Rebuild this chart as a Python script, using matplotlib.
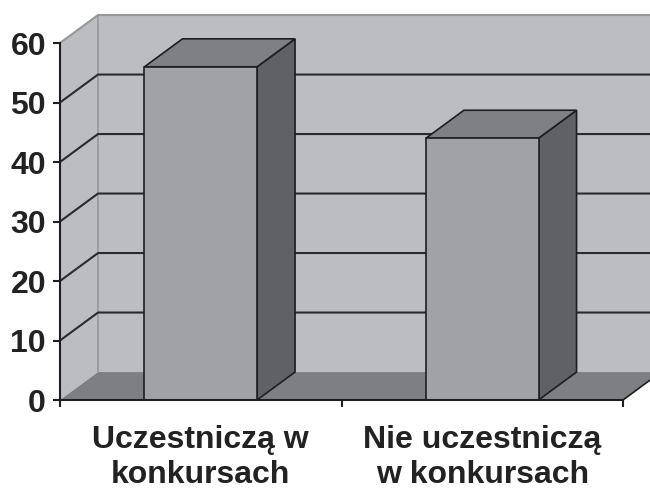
import matplotlib
matplotlib.use('Agg')
import matplotlib.pyplot as plt
from matplotlib.patches import Polygon

# dane
kategorie = ['Uczestniczą w\nkonkursach', 'Nie uczestniczą\nw konkursach']
wartosci = [56, 44]
ticki_y = [0, 10, 20, 30, 40, 50, 60]

plt.rcParams['font.family'] = ['Liberation Sans', 'DejaVu Sans']

ymax = 60
glab_x = 0.135   # przesuniecie glebokosci w jednostkach kategorii
glab_y = 4.7     # przesuniecie glebokosci w jednostkach osi y
szer = 0.4       # szerokosc slupka

kol_sciana = '#bcbdc1'
kol_podloga = '#7e7f83'
kol_front = '#a1a2a6'
kol_gora = '#7f8084'
kol_bok = '#606164'
kol_krawedz = '#1e1e1e'

fig = plt.figure(figsize=(6.5, 4.9), dpi=100)
ax = fig.add_axes([60 / 650, 90 / 490, 563 / 650, 357 / 490])
n = len(kategorie)
ax.set_xlim(0, n)
ax.set_ylim(0, ymax)


def poly(pts, fc, ec='none', lw=0, z=1):
    p = Polygon(pts, closed=True, facecolor=fc, edgecolor=ec, linewidth=lw,
                zorder=z, clip_on=False, joinstyle='miter')
    ax.add_patch(p)


# sciana tylna, boczna i podloga
poly([(glab_x, glab_y), (n + glab_x, glab_y), (n + glab_x, ymax + glab_y),
      (glab_x, ymax + glab_y)], kol_sciana, z=0.5)
poly([(0, 0), (glab_x, glab_y), (glab_x, ymax + glab_y), (0, ymax)], kol_sciana, z=0.5)
poly([(0, 0), (n, 0), (n + glab_x, glab_y), (glab_x, glab_y)], kol_podloga, z=0.6)

# krawedzie scian
ax.plot([0, glab_x, n + glab_x], [ymax, ymax + glab_y, ymax + glab_y],
        color='#96979b', lw=1.5, clip_on=False, zorder=0.7)
ax.plot([glab_x, glab_x], [glab_y, ymax + glab_y], color='#96979b', lw=1.2,
        clip_on=False, zorder=0.7)

# linie siatki
for t in ticki_y[1:-1]:
    ax.plot([0, glab_x, n + glab_x], [t, t + glab_y, t + glab_y],
            color='#2a2a2a', lw=1.5, clip_on=False, zorder=0.8)
ax.plot([n, n + glab_x], [0, glab_y], color='#1e1e1e', lw=1.2, clip_on=False, zorder=0.8)

# slupki 3D
for i, v in enumerate(wartosci):
    x0 = i + 0.5 - szer / 2
    x1 = i + 0.5 + szer / 2
    poly([(x1, 0), (x1 + glab_x, glab_y), (x1 + glab_x, v + glab_y), (x1, v)],
         kol_bok, kol_krawedz, 1.2, z=2)
    poly([(x0, v), (x1, v), (x1 + glab_x, v + glab_y), (x0 + glab_x, v + glab_y)],
         kol_gora, kol_krawedz, 1.2, z=2)
    poly([(x0, 0), (x1, 0), (x1, v), (x0, v)], kol_front, kol_krawedz, 1.2, z=3)

ax.patch.set_visible(False)
for s in ['top', 'right']:
    ax.spines[s].set_visible(False)
for s in ['left', 'bottom']:
    ax.spines[s].set_color('#1e1e1e')
    ax.spines[s].set_linewidth(1.5)
    ax.spines[s].set_zorder(4)

ax.set_yticks(ticki_y)
ax.set_yticklabels([str(t) for t in ticki_y], fontsize=23, fontweight='bold', color='#222222')
ax.tick_params(axis='y', length=5, width=1.5, color='#1e1e1e', pad=5)

ax.set_xticks(range(n + 1))
ax.set_xticklabels([''] * (n + 1))
ax.tick_params(axis='x', which='major', length=5, width=1.5, color='#1e1e1e')
ax.set_xticks([i + 0.5 for i in range(n)], minor=True)
ax.set_xticklabels(kategorie, minor=True, fontsize=23, fontweight='bold',
                   color='#222222', linespacing=1.2)
ax.tick_params(axis='x', which='minor', length=0, pad=18)

fig.savefig('out.png', dpi=100)
